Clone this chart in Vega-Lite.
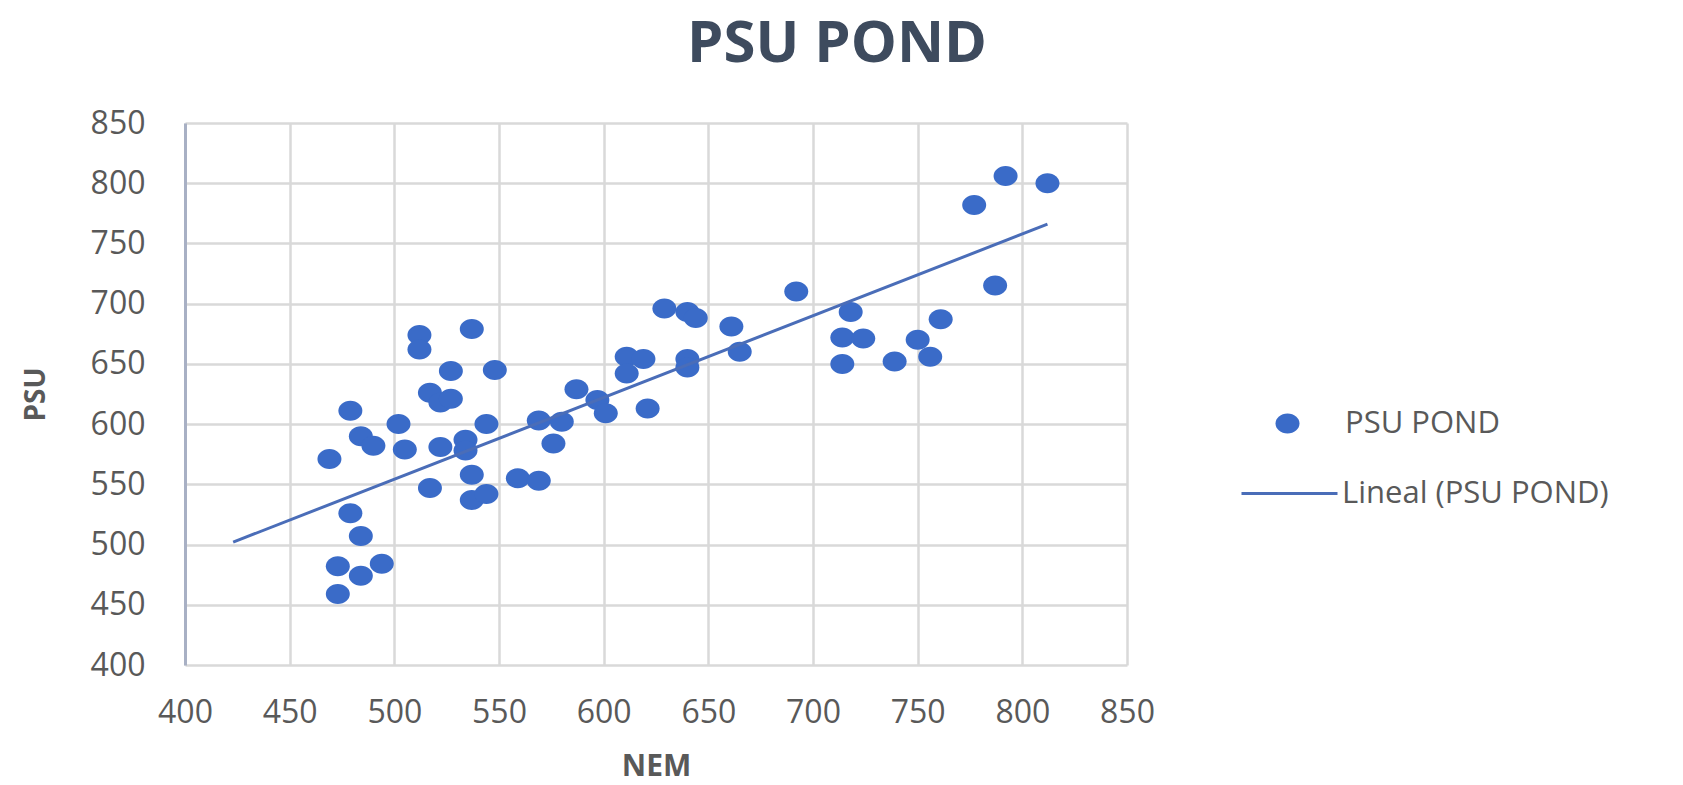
{
  "$schema": "https://vega.github.io/schema/vega-lite/v6.json",
  "width": 942,
  "height": 542,
  "autosize": "none",
  "padding": {"left": 185, "top": 123, "right": 556, "bottom": 120},
  "background": "white",
  "title": {
    "text": "PSU POND",
    "font": "Open Sans",
    "fontSize": 58,
    "fontWeight": "bold",
    "color": "#3E4B5E",
    "anchor": "middle",
    "frame": "group",
    "dx": 181,
    "offset": 33
  },
  "config": {
    "view": {"stroke": null},
    "axis": {
      "labelFont": "Open Sans",
      "labelFontSize": 32,
      "labelColor": "#595959",
      "ticks": false,
      "gridColor": "#D9D9D9",
      "gridWidth": 2.5,
      "titleFont": "Open Sans",
      "titleFontWeight": "bold",
      "titleColor": "#595959",
      "labelOverlap": false,
      "labelFlush": false
    }
  },
  "datasets": {
    "points": [
      {"NEM": 469, "PSU": 571}, {"NEM": 479, "PSU": 611}, {"NEM": 484, "PSU": 590}, {"NEM": 490, "PSU": 582},
      {"NEM": 502, "PSU": 600}, {"NEM": 505, "PSU": 579}, {"NEM": 479, "PSU": 526}, {"NEM": 484, "PSU": 507},
      {"NEM": 473, "PSU": 482}, {"NEM": 494, "PSU": 484}, {"NEM": 484, "PSU": 474}, {"NEM": 473, "PSU": 459},
      {"NEM": 512, "PSU": 674}, {"NEM": 512, "PSU": 662}, {"NEM": 537, "PSU": 679}, {"NEM": 527, "PSU": 644},
      {"NEM": 548, "PSU": 645}, {"NEM": 517, "PSU": 626}, {"NEM": 522, "PSU": 618}, {"NEM": 527, "PSU": 621},
      {"NEM": 522, "PSU": 581}, {"NEM": 534, "PSU": 587}, {"NEM": 534, "PSU": 578}, {"NEM": 544, "PSU": 600},
      {"NEM": 517, "PSU": 547}, {"NEM": 537, "PSU": 558}, {"NEM": 537, "PSU": 537}, {"NEM": 544, "PSU": 542},
      {"NEM": 559, "PSU": 555}, {"NEM": 569, "PSU": 553}, {"NEM": 569, "PSU": 603}, {"NEM": 580, "PSU": 602},
      {"NEM": 576, "PSU": 584}, {"NEM": 587, "PSU": 629}, {"NEM": 597, "PSU": 620}, {"NEM": 601, "PSU": 609},
      {"NEM": 621, "PSU": 613}, {"NEM": 611, "PSU": 656}, {"NEM": 619, "PSU": 654}, {"NEM": 611, "PSU": 642},
      {"NEM": 629, "PSU": 696}, {"NEM": 640, "PSU": 693}, {"NEM": 644, "PSU": 688}, {"NEM": 640, "PSU": 654},
      {"NEM": 640, "PSU": 647}, {"NEM": 661, "PSU": 681}, {"NEM": 665, "PSU": 660}, {"NEM": 692, "PSU": 710},
      {"NEM": 718, "PSU": 693}, {"NEM": 714, "PSU": 672}, {"NEM": 724, "PSU": 671}, {"NEM": 714, "PSU": 650},
      {"NEM": 739, "PSU": 652}, {"NEM": 750, "PSU": 670}, {"NEM": 756, "PSU": 656}, {"NEM": 761, "PSU": 687},
      {"NEM": 777, "PSU": 782}, {"NEM": 792, "PSU": 806}, {"NEM": 812, "PSU": 800}, {"NEM": 787, "PSU": 715}
    ],
    "trend": [
      {"NEM": 423, "PSU": 502},
      {"NEM": 812, "PSU": 766}
    ]
  },
  "layer": [
    {
      "data": {"name": "points"},
      "mark": {"type": "point", "filled": true, "color": "#3A6BC8", "opacity": 1, "size": 400},
      "encoding": {
        "x": {
          "field": "NEM", "type": "quantitative",
          "scale": {"domain": [400, 850], "nice": false, "zero": false},
          "axis": {
            "values": [400, 450, 500, 550, 600, 650, 700, 750, 800, 850],
            "domain": false,
            "labelPadding": 32,
            "title": "NEM",
            "titleFontSize": 30,
            "titlePadding": 23
          }
        },
        "y": {
          "field": "PSU", "type": "quantitative",
          "scale": {"domain": [400, 850], "nice": false, "zero": false},
          "axis": {
            "values": [400, 450, 500, 550, 600, 650, 700, 750, 800, 850],
            "domain": true,
            "domainColor": "#A8B0C4",
            "domainWidth": 3,
            "labelPadding": 40,
            "title": "PSU",
            "titleFontSize": 28,
            "titlePadding": 40
          }
        },
        "shape": {
          "datum": "PSU POND",
          "scale": {
            "domain": ["PSU POND"],
            "range": ["M-1.2,0A1.2,1 0 1,0 1.2,0A1.2,1 0 1,0 -1.2,0"]
          },
          "legend": {
            "title": null,
            "orient": "none",
            "legendX": 1087,
            "legendY": 285,
            "labelFont": "Open Sans",
            "labelFontSize": 31,
            "labelColor": "#595959",
            "labelLimit": 0,
            "symbolSize": 400,
            "symbolFillColor": "#3A6BC8",
            "symbolOpacity": 1,
            "labelOffset": 42
          }
        }
      }
    },
    {
      "data": {"name": "trend"},
      "mark": {"type": "line", "strokeWidth": 3},
      "encoding": {
        "x": {"field": "NEM", "type": "quantitative"},
        "y": {"field": "PSU", "type": "quantitative"},
        "color": {
          "datum": "Lineal (PSU POND)",
          "scale": {"domain": ["Lineal (PSU POND)"], "range": ["#4A6DB8"]},
          "legend": {
            "title": null,
            "orient": "none",
            "legendX": 1089,
            "legendY": 355,
            "labelFont": "Open Sans",
            "labelFontSize": 31,
            "labelColor": "#595959",
            "labelLimit": 0,
            "symbolType": "M-4.8,0H4.8",
            "symbolSize": 400,
            "symbolStrokeWidth": 3,
            "symbolStrokeColor": "#4A6DB8",
            "labelOffset": 37
          }
        }
      }
    }
  ]
}
